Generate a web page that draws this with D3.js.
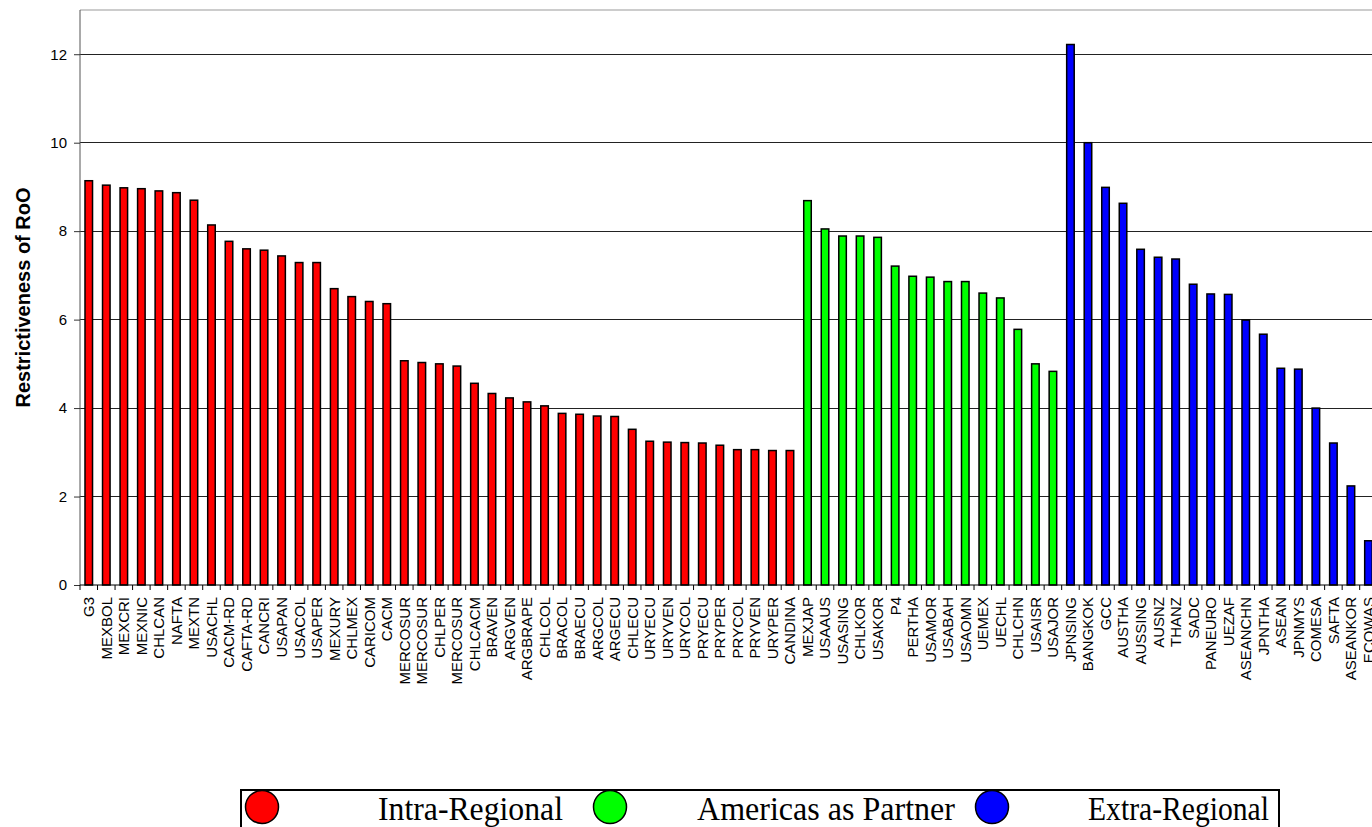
<!DOCTYPE html>
<html><head><meta charset="utf-8">
<script src="https://cdn.jsdelivr.net/npm/d3@7"></script>
<style>body{margin:0;background:#fff;overflow:hidden}svg{display:block}</style>
</head><body>
<svg id="c" width="1372" height="827"></svg>
<script>
const intraCats = ["G3","MEXBOL","MEXCRI","MEXNIC","CHLCAN","NAFTA","MEXTN","USACHL","CACM-RD","CAFTA-RD","CANCRI","USAPAN","USACOL","USAPER","MEXURY","CHLMEX","CARICOM","CACM","MERCOSUR","MERCOSUR","CHLPER","MERCOSUR","CHLCACM","BRAVEN","ARGVEN","ARGBRAPE","CHLCOL","BRACOL","BRAECU","ARGCOL","ARGECU","CHLECU","URYECU","URYVEN","URYCOL","PRYECU","PRYPER","PRYCOL","PRYVEN","URYPER","CANDINA"];
const intraVals = [9.14,9.04,8.98,8.96,8.91,8.87,8.70,8.14,7.77,7.60,7.57,7.44,7.29,7.29,6.70,6.52,6.41,6.36,5.07,5.03,5.00,4.95,4.56,4.33,4.23,4.14,4.05,3.88,3.86,3.82,3.81,3.52,3.25,3.23,3.22,3.21,3.16,3.06,3.06,3.04,3.04];
const americasCats = ["MEXJAP","USAAUS","USASING","CHLKOR","USAKOR","P4","PERTHA","USAMOR","USABAH","USAOMN","UEMEX","UECHL","CHLCHN","USAISR","USAJOR"];
const americasVals = [8.69,8.05,7.89,7.89,7.86,7.21,6.98,6.96,6.86,6.86,6.60,6.49,5.78,5.00,4.83];
const extraCats = ["JPNSING","BANGKOK","GCC","AUSTHA","AUSSING","AUSNZ","THANZ","SADC","PANEURO","UEZAF","ASEANCHN","JPNTHA","ASEAN","JPNMYS","COMESA","SAFTA","ASEANKOR","ECOWAS"];
const extraVals = [12.22,10.0,8.99,8.63,7.59,7.41,7.37,6.80,6.58,6.57,5.99,5.67,4.90,4.88,4.00,3.21,2.24,1.00];
const yTicks = [0,2,4,6,8,10,12];
const groupNames = ["Intra-Regional","Americas as Partner","Extra-Regional"];
const groupColors = ["#FF0000","#00FF00","#0000FF"];
const yTitle = "Restrictiveness of RoO";

(function(){
const rows = [];
[[intraCats,intraVals],[americasCats,americasVals],[extraCats,extraVals]].forEach(([cs,vs],g)=>{
  cs.forEach((c,i)=>rows.push({key:rows.length, label:c, value:vs[i], group:g}));
});

const svg = d3.select("#c");
const pL = 80, step = 17.53, pT = 10, pB = 585;
const x = d3.scaleBand().domain(rows.map(d=>d.key)).range([pL, pL + rows.length*step]).paddingInner(0.57).paddingOuter(0.285);
const y = d3.scaleLinear().domain([0,13]).range([pB, pT]);

svg.append("g").selectAll("line").data(yTicks.filter(t=>t>0)).join("line")
  .attr("x1", pL).attr("x2", 1372).attr("y1", d=>y(d)).attr("y2", d=>y(d))
  .attr("stroke","#222").attr("stroke-width",1).attr("shape-rendering","crispEdges");
svg.append("line").attr("x1",pL).attr("x2",1372).attr("y1",y(13)).attr("y2",y(13))
  .attr("stroke","#999").attr("stroke-width",1.2);

svg.append("g").selectAll("rect").data(rows).join("rect")
  .attr("x", d=>x(d.key)).attr("width", x.bandwidth())
  .attr("y", d=>y(d.value)).attr("height", d=>y(0)-y(d.value))
  .attr("fill", d=>groupColors[d.group]).attr("stroke","#000").attr("stroke-width",1.5);

const ya = svg.append("g").attr("transform",`translate(${pL},0)`)
  .call(d3.axisLeft(y).tickValues(yTicks).tickSize(6).tickPadding(7).tickFormat(d3.format("d")));
ya.select(".domain").attr("stroke","#555").attr("d",`M0,${y(0)}V${y(13)}`);
ya.selectAll(".tick line").attr("stroke","#333");
ya.selectAll("text").attr("font-family","Liberation Sans, Arial, sans-serif").attr("font-size",15).attr("fill","#000");

svg.append("line").attr("x1",pL).attr("x2",1372).attr("y1",y(0)).attr("y2",y(0)).attr("stroke","#000").attr("stroke-width",1.2);
const bounds = rows.map(d=>x(d.key)+x.bandwidth()/2-x.step()/2);
svg.append("g").selectAll("line").data(bounds).join("line")
  .attr("x1",d=>d).attr("x2",d=>d).attr("y1",y(0)).attr("y2",y(0)+5)
  .attr("stroke","#000").attr("stroke-width",1);
svg.append("g").selectAll("text").data(rows).join("text")
  .attr("transform", d=>`translate(${x(d.key)+x.bandwidth()/2},597) rotate(-90)`)
  .attr("text-anchor","end").attr("dy","0.36em")
  .attr("font-family","Liberation Sans, Arial, sans-serif").attr("font-size",15)
  .text(d=>d.label);

svg.append("text").attr("transform",`translate(30,${(pT+pB)/2}) rotate(-90)`)
  .attr("text-anchor","middle").attr("font-family","Liberation Sans, Arial, sans-serif")
  .attr("font-weight","bold").attr("font-size",20).text(yTitle);

const lg = svg.append("g");
lg.append("rect").attr("x",241).attr("y",790).attr("width",1038).attr("height",60)
  .attr("fill","none").attr("stroke","#000").attr("stroke-width",2);
const legendItems = [
  {cx:262, tx:378, tw:185},
  {cx:610, tx:697, tw:258},
  {cx:992, tx:1088, tw:181}
];
legendItems.forEach((it,i)=>{
  lg.append("circle").attr("cx",it.cx).attr("cy",807).attr("r",16.5)
    .attr("fill",groupColors[i]).attr("stroke","#000").attr("stroke-width",1.5);
  lg.append("text").attr("x",it.tx).attr("y",820)
    .attr("font-family","Liberation Serif, Times New Roman, serif").attr("font-size",33)
    .attr("textLength",it.tw).attr("lengthAdjust","spacingAndGlyphs")
    .text(groupNames[i]);
});
})();
</script>
</body></html>
